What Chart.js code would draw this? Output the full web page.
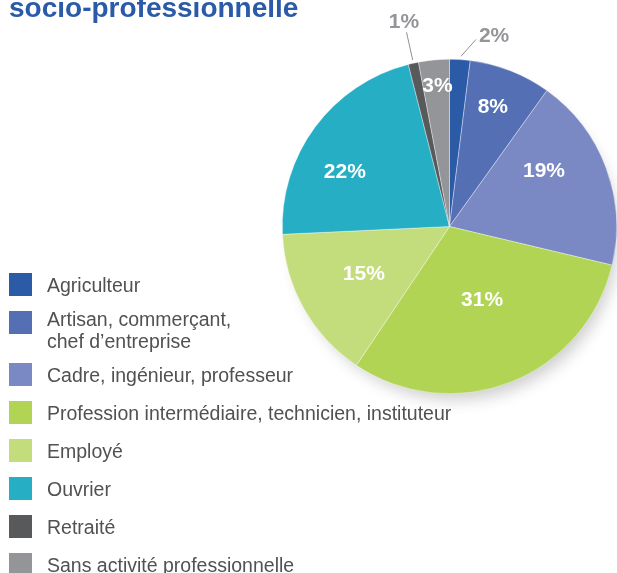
<!DOCTYPE html>
<html>
<head>
<meta charset="utf-8">
<script src="https://cdn.jsdelivr.net/npm/chart.js@4.4.0/dist/chart.umd.min.js"></script>
<style>
html,body{margin:0;padding:0;background:#fff;overflow:hidden;}
canvas{display:block;}
</style>
</head>
<body>
<canvas id="c" width="617" height="573"></canvas>
<script>
// ---- data ----
const titleText = 'socio-professionnelle';
const categories = [
  'Agriculteur',
  ['Artisan, commerçant,', 'chef d’entreprise'],
  'Cadre, ingénieur, professeur',
  'Profession intermédiaire, technicien, instituteur',
  'Employé',
  'Ouvrier',
  'Retraité',
  'Sans activité professionnelle'
];
const percentages = [2, 8, 19, 31, 15, 22, 1, 3];
const valueLabels = ['2%', '8%', '19%', '31%', '15%', '22%', '1%', '3%'];

// ---- styles ----
const sliceColors = ['#2b5aa7', '#546fb4', '#7a88c3', '#b1d455', '#c3dc7c', '#26aec4', '#58595b', '#939598'];
// label placement: radius fraction, angle offset (deg), outside flag, leader line [r0, da0, r1, da1]
const labelPlacement = [
  {r: 1.18, da: 9.5, out: true, line: [1.02, 0.3, 1.13, 4.5]},
  {r: 0.77, da: -1.7},
  {r: 0.66, da: -10.6},
  {r: 0.47, da: -3.1},
  {r: 0.58, da: 1.4},
  {r: 0.71, da: -8.4},
  {r: 1.26, da: 0, out: true, line: [1.02, 0, 1.19, 0]},
  {r: 0.85, da: 0.5}
];
const FONT = '"Liberation Sans", Arial, Helvetica, sans-serif';

const shadowPlugin = {
  id: 'shadow',
  beforeDatasetsDraw(chart) {
    const arc = chart.getDatasetMeta(0).data[0];
    if (!arc) return;
    const ctx = chart.ctx;
    ctx.save();
    ctx.shadowColor = 'rgba(0,0,0,0.2)';
    ctx.shadowBlur = 16;
    ctx.shadowOffsetX = 6;
    ctx.shadowOffsetY = 11;
    ctx.fillStyle = '#ffffff';
    ctx.beginPath();
    ctx.arc(arc.x, arc.y, arc.outerRadius - 5, 0, Math.PI * 2);
    ctx.fill();
    ctx.restore();
  }
};

const labelPlugin = {
  id: 'sliceLabels',
  afterDatasetsDraw(chart) {
    const ctx = chart.ctx;
    const meta = chart.getDatasetMeta(0);
    const size = 21;
    ctx.save();
    ctx.font = 'bold ' + size + 'px ' + FONT;
    ctx.textAlign = 'center';
    ctx.textBaseline = 'alphabetic';
    meta.data.forEach((arc, i) => {
      const p = labelPlacement[i];
      const R = arc.outerRadius;
      const mid = (arc.startAngle + arc.endAngle) / 2;
      const deg = Math.PI / 180;
      if (p.line) {
        const [r0, a0, r1, a1] = p.line;
        ctx.strokeStyle = '#8f9194';
        ctx.lineWidth = 1;
        ctx.beginPath();
        ctx.moveTo(arc.x + Math.cos(mid + a0 * deg) * R * r0, arc.y + Math.sin(mid + a0 * deg) * R * r0);
        ctx.lineTo(arc.x + Math.cos(mid + a1 * deg) * R * r1, arc.y + Math.sin(mid + a1 * deg) * R * r1);
        ctx.stroke();
      }
      const a = mid + p.da * deg;
      const cx = arc.x + Math.cos(a) * R * p.r;
      const cy = arc.y + Math.sin(a) * R * p.r;
      ctx.fillStyle = p.out ? '#939598' : '#ffffff';
      ctx.fillText(valueLabels[i], cx, cy + size * 0.716 / 2);
    });
    ctx.restore();
  }
};

const legendTitlePlugin = {
  id: 'legendTitle',
  afterDraw(chart) {
    const ctx = chart.ctx;
    ctx.save();
    // title
    ctx.font = 'bold 28px ' + FONT;
    ctx.fillStyle = '#2b5aa8';
    ctx.textAlign = 'left';
    ctx.textBaseline = 'alphabetic';
    ctx.fillText(titleText, 9, 16.5);
    // legend
    ctx.font = '19.5px ' + FONT;
    let extra = 0;
    categories.forEach((cat, i) => {
      const lines = Array.isArray(cat) ? cat : [cat];
      const top = 273 + 38 * i + extra;
      ctx.fillStyle = sliceColors[i];
      ctx.fillRect(9, top, 23, 23);
      ctx.fillStyle = '#505153';
      const shift = lines.length > 1 ? -4 : 0;
      lines.forEach((ln, j) => {
        ctx.fillText(ln, 47, top + 19 + shift + j * 21.6);
      });
      extra += (lines.length - 1) * 14;
    });
    ctx.restore();
  }
};

new Chart(document.getElementById('c'), {
  type: 'pie',
  data: {
    labels: categories,
    datasets: [{
      data: percentages,
      backgroundColor: sliceColors,
      borderColor: 'rgba(255,255,255,0.6)',
      borderWidth: 0.6
    }]
  },
  options: {
    responsive: false,
    animation: false,
    layout: {padding: {left: 282, top: 59, right: 0, bottom: 179}},
    plugins: {
      legend: {display: false},
      tooltip: {enabled: false},
      title: {display: false}
    }
  },
  plugins: [shadowPlugin, labelPlugin, legendTitlePlugin]
});
</script>
</body>
</html>
